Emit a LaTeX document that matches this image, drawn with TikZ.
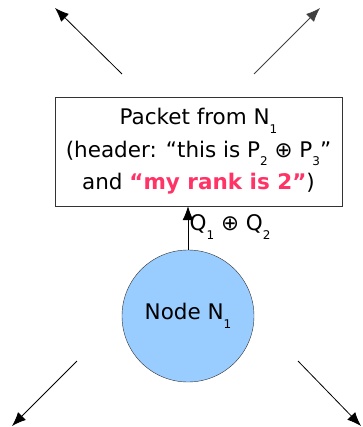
\documentclass[tikz,border=0pt]{standalone}
\usepackage{fontspec}
\setmainfont{DejaVu Sans}
\usetikzlibrary{arrows.meta}
\definecolor{nodeblue}{HTML}{99CCFF}
\definecolor{rankpink}{HTML}{FF3366}
\newcommand{\sub}[1]{\raisebox{-8.5pt}{\fontsize{12}{12}\selectfont #1}}
\begin{document}
\begin{tikzpicture}[x=1pt, y=-1pt,
		node_style/.style={circle,draw=black!80,fill=nodeblue,minimum size=132pt,inner sep=0pt,font=\fontsize{21.5}{24}\selectfont},
		box_style/.style={rectangle,draw=black!80,fill=white,minimum width=287pt,minimum height=109pt,align=center,font=\fontsize{21.5}{32.5}\selectfont},
		edge_style/.style={draw=black,line width=0.8pt,-{Latex[length=14pt,width=11pt]}}]

		\useasboundingbox (0,0) rectangle (362,427);

		\node[node_style] (n1) at (188,316) {Node N\sub{1}};
		\node[box_style] (pkt) at (198.5,151.5) {Packet from N\sub{1}\\(header: “this is P\sub{2} ⊕ P\sub{3}”\\and \textcolor{rankpink}{\textbf{“my rank is 2”}})};

		\coordinate (ul0) at (122,74);
		\coordinate (ul1) at (55,8);
		\coordinate (ur0) at (254,74);
		\coordinate (ur1) at (320,8);
		\coordinate (ll0) at (77,361);
		\coordinate (ll1) at (12,426);
		\coordinate (lr0) at (298,361);
		\coordinate (lr1) at (361,426);

		\draw[edge_style] (n1.north) -- node[right,xshift=-2pt,yshift=1pt,font=\fontsize{21.5}{24}\selectfont]{Q\sub{1} ⊕ Q\sub{2}} (pkt.south -| n1.north);
		\draw[edge_style] (ul0) -- (ul1);
		\draw[edge_style,draw=black!75] (ur0) -- (ur1);
		\draw[edge_style] (ll0) -- (ll1);
		\draw[edge_style] (lr0) -- (lr1);

\end{tikzpicture}
\end{document}
